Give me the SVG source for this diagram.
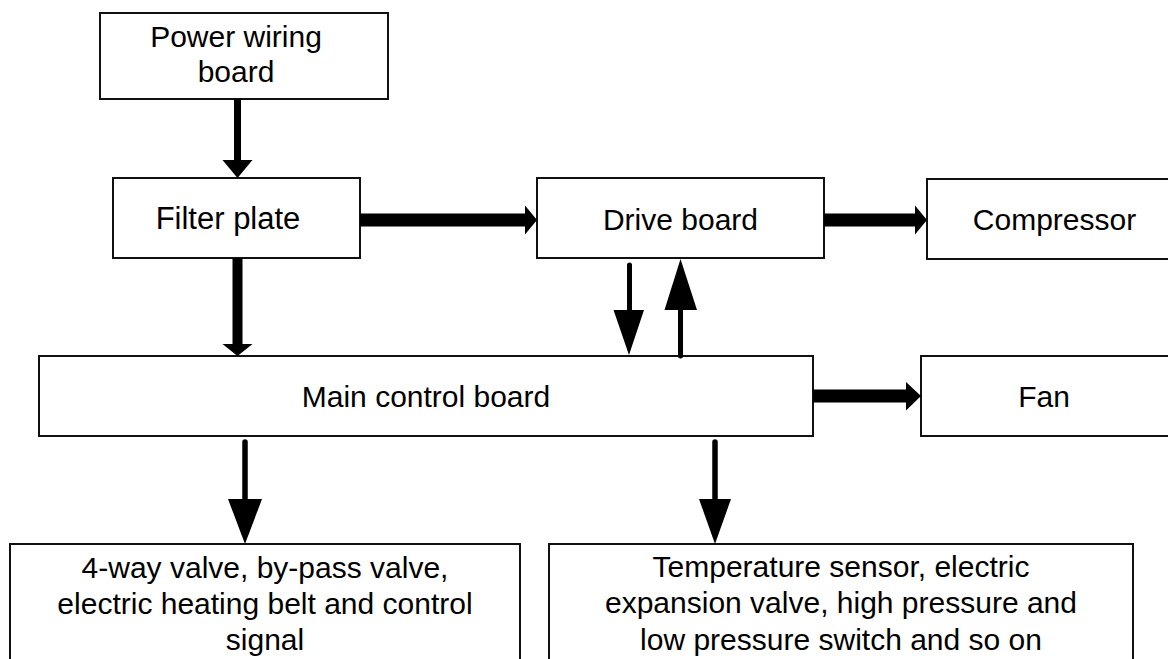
<svg xmlns="http://www.w3.org/2000/svg" width="1168" height="659" viewBox="0 0 1168 659">
<style>
.box{fill:#fff;stroke:#111;stroke-width:2}
.t{font-family:"Liberation Sans",Arial,sans-serif;font-size:30px;fill:#000;text-anchor:middle}
.ar{fill:#000;stroke:none}
.sh{stroke:#000;stroke-linecap:round;fill:none}
</style>
<rect width="1168" height="659" fill="#fff"/>
<g id="power"><rect class="box" x="100" y="13" width="288" height="86"/><text class="t" x="236" y="47">Power wiring</text><text class="t" x="236" y="82">board</text></g>
<g id="filter"><rect class="box" x="113" y="178" width="247" height="80"/><text class="t" x="228" y="229" style="font-size:31px">Filter plate</text></g>
<g id="drive"><rect class="box" x="537" y="178" width="287" height="80"/><text class="t" x="680.5" y="230">Drive board</text></g>
<g id="compressor"><rect class="box" x="927" y="179" width="260" height="80"/><text class="t" x="1054.5" y="230">Compressor</text></g>
<g id="main"><rect class="box" x="39" y="356" width="774" height="80"/><text class="t" x="426" y="407">Main control board</text></g>
<g id="fan"><rect class="box" x="921" y="356" width="260" height="80"/><text class="t" x="1044" y="407">Fan</text></g>
<g id="bl"><rect class="box" x="10" y="544" width="510" height="130"/><text class="t" x="265" y="578">4-way valve, by-pass valve,</text><text class="t" x="265" y="614">electric heating belt and control</text><text class="t" x="265" y="650">signal</text></g>
<g id="br"><rect class="box" x="549" y="544" width="584" height="130"/><text class="t" x="841" y="577">Temperature sensor, electric</text><text class="t" x="841" y="613">expansion valve, high pressure and</text><text class="t" x="841" y="650">low pressure switch and so on</text></g>
<g id="connectors">
<path class="ar" d="M234 99H241V160H252.5L237.5 178L222.5 160H234Z"/>
<path class="ar" d="M232.5 258H242.5V344H252.5L237.5 356L222.5 344H232.5Z"/>
<path class="ar" d="M360 213.5H525V205.5L537 220L525 234.5V226.5H360Z"/>
<path class="ar" d="M824 213.5H915V205.5L927 220L915 234.5V226.5H824Z"/>
<path class="ar" d="M813 389.5H906V382L921 396L906 410.5V402.5H813Z"/>
<line class="sh" x1="629.5" y1="265" x2="629.5" y2="312" stroke-width="5"/>
<path class="ar" d="M613.5 310H644L629 355Z"/>
<line class="sh" x1="680.5" y1="356" x2="680.5" y2="305" stroke-width="5"/>
<path class="ar" d="M664.5 310H697L680.5 259Z"/>
<line class="sh" x1="245" y1="442" x2="245" y2="502" stroke-width="5.5"/>
<path class="ar" d="M228 499H262L245 544Z"/>
<line class="sh" x1="715" y1="442" x2="715" y2="502" stroke-width="5.5"/>
<path class="ar" d="M699 499H731L715 544Z"/>
</g>
</svg>
